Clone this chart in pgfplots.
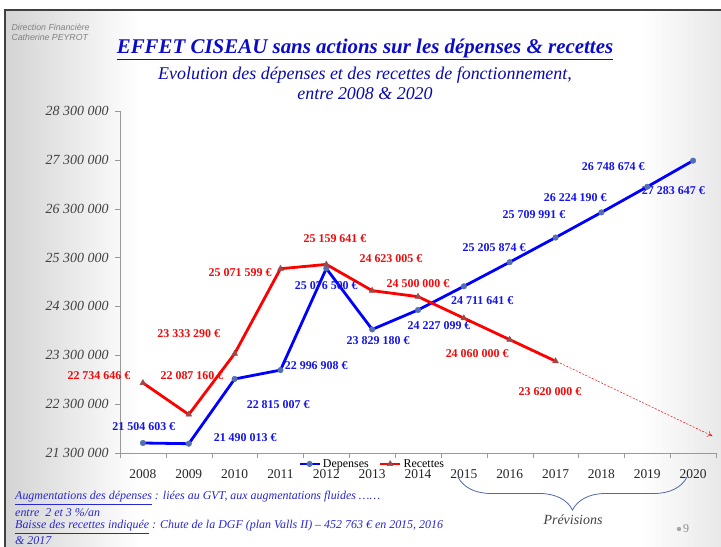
\documentclass[border=0pt]{standalone}
\usepackage{fontspec}
\setmainfont{Liberation Serif}
\newfontfamily\hdrfont{Liberation Sans}
\usepackage{pgfplots}
\pgfplotsset{compat=1.18}
\usetikzlibrary{decorations.pathreplacing,arrows.meta}

\definecolor{dep}{RGB}{0,0,255}
\definecolor{depmark}{RGB}{84,110,178}
\definecolor{rec}{RGB}{255,0,0}
\definecolor{recmark}{RGB}{160,72,72}
\definecolor{lblb}{RGB}{20,20,235}
\definecolor{lblr}{RGB}{240,10,10}
\definecolor{titlec}{RGB}{12,12,200}
\definecolor{notec}{RGB}{40,40,210}
\definecolor{bracec}{RGB}{80,105,170}
\definecolor{tickc}{RGB}{64,64,64}

\pgfplotstableread{
year value
2008 21504603
2009 21490013
2010 22815007
2011 22996908
2012 25076500
2013 23829180
2014 24227099
2015 24711641
2016 25205874
2017 25709991
2018 26224190
2019 26748674
2020 27283647
}\depenses

\pgfplotstableread{
year value
2008 22734646
2009 22087160
2010 23333290
2011 25071599
2012 25159641
2013 24623005
2014 24500000
2015 24060000
2016 23620000
2017 23180000
}\recettes

\begin{document}
\begin{tikzpicture}
\begin{scope}[x=1bp,y=1bp]
\path[use as bounding box] (0,0) rectangle (721,547);
% slide background
\fill[white] (0,0) rectangle (721,547);
\shade[left color=black!17, right color=white] (5,0) rectangle (140,537);
\shade[left color=white, right color=black!9] (640,0) rectangle (721,537);
\draw[line width=1.6bp, black!75] (5,-5) -- (5,537) -- (730,537);

% header
\node[anchor=west, font=\hdrfont\itshape\fontsize{8.8}{9.5}\selectfont, text=black!50, align=left] at (8,514.5) {Direction Financière\\Catherine PEYROT};

% titles
\node[font=\fontsize{21}{24}\selectfont\bfseries\itshape, text=titlec] at (365,498) {\underline{EFFET CISEAU sans actions sur les dépenses \& recettes}};
\node[font=\fontsize{18}{21}\selectfont\itshape, text=titlec!85!black, align=center] at (365,463.5) {Evolution des dépenses et des recettes de fonctionnement,\\[-1bp]entre 2008 \& 2020};
\end{scope}

\begin{axis}[
  scale only axis, width=596bp, height=342bp,
  at={(120bp,94bp)}, anchor=south west,
  xmin=2007.5, xmax=2020.5,
  ymin=21300000, ymax=28300000,
  axis x line*=bottom, axis y line*=left,
  axis line style={black!40, -},
  tick style={black!40},
  tick align=outside, major tick length=5bp,
  xtick={2007.5,2008.5,2009.5,2010.5,2011.5,2012.5,2013.5,2014.5,2015.5,2016.5,2017.5,2018.5,2019.5,2020.5},
  x tick label as interval,
  xticklabels={2008,2009,2010,2011,2012,2013,2014,2015,2016,2017,2018,2019,2020},
  xticklabel style={font=\fontsize{13.5}{15}\selectfont, text=black!85, yshift=-8bp},
  ytick={21300000,22300000,23300000,24300000,25300000,26300000,27300000,28300000},
  yticklabels={21 300 000,22 300 000,23 300 000,24 300 000,25 300 000,26 300 000,27 300 000,28 300 000},
  yticklabel style={font=\fontsize{14}{15}\selectfont\itshape, text=tickc, xshift=-3bp},
  scaled y ticks=false,
  clip=false,
  legend columns=2,
  legend style={at={(0.423,-0.032)}, anchor=center, draw=none, fill=none,
    font=\fontsize{12}{13}\selectfont, inner sep=0pt,
    /tikz/every even column/.append style={column sep=8bp}},
  legend image code/.code={\draw[#1] (0bp,0bp) -- (10bp,0bp) -- (20bp,0bp); \path[#1, only marks] plot coordinates {(10bp,0bp)};},
]
\addplot[dep, line width=2.8bp, mark=*, mark size=2.8bp, mark options={fill=depmark, draw=depmark, line width=0.4bp}] table[x=year, y=value] {\depenses};
\addlegendentry{Depenses}
\addplot[rec, line width=2.8bp, mark=triangle*, mark size=3.4bp, mark options={fill=recmark, draw=recmark, line width=0.4bp}] table[x=year, y=value] {\recettes};
\addlegendentry{Recettes}

\draw[rec, line width=0.5bp, dash pattern=on 2bp off 1.5bp, -{To[length=5bp,width=6bp]}] (axis cs:2017.1,23140000) -- (axis cs:2020.42,21648000);

% data labels (Depenses)
\begin{scope}[every node/.style={font=\fontsize{12}{13}\selectfont\bfseries, text=lblb, inner sep=0pt}]
\node at (axis cs:2008.02,21832000) {21 504 603 €};
\node at (axis cs:2010.23,21607000) {21 490 013 €};
\node at (axis cs:2010.95,22282000) {22 815 007 €};
\node at (axis cs:2011.78,23079000) {22 996 908 €};
\node at (axis cs:2012.00,24736000) {25 076 500 €};
\node at (axis cs:2013.13,23611000) {23 829 180 €};
\node at (axis cs:2014.46,23918000) {24 227 099 €};
\node at (axis cs:2015.40,24429000) {24 711 641 €};
\node at (axis cs:2015.66,25513000) {25 205 874 €};
\node at (axis cs:2016.53,26188000) {25 709 991 €};
\node at (axis cs:2017.43,26535000) {26 224 190 €};
\node at (axis cs:2018.26,27169000) {26 748 674 €};
\node at (axis cs:2019.57,26678000) {27 283 647 €};
\end{scope}
% data labels (Recettes)
\begin{scope}[every node/.style={font=\fontsize{12}{13}\selectfont\bfseries, text=lblr, inner sep=0pt}]
\node at (axis cs:2007.04,22875000) {22 734 646 €};
\node at (axis cs:2009.07,22875000) {22 087 160 €};
\node at (axis cs:2009.00,23734000) {23 333 290 €};
\node at (axis cs:2010.12,25001000) {25 071 599 €};
\node at (axis cs:2012.19,25697000) {25 159 641 €};
\node at (axis cs:2013.41,25288000) {24 623 005 €};
\node at (axis cs:2014.00,24777000) {24 500 000 €};
\node at (axis cs:2015.29,23325000) {24 060 000 €};
\node at (axis cs:2016.88,22547000) {23 620 000 €};
\end{scope}
\end{axis}

\begin{scope}[x=1bp,y=1bp]
% brace and forecast label
\draw[decorate, decoration={brace, mirror, amplitude=33bp}, bracec, line width=0.8bp] (458,70) -- (687,70);
\node[font=\fontsize{14}{16}\selectfont\itshape, text=black!75] at (573,27) {Prévisions};

% notes
\begin{scope}[every node/.style={anchor=west, font=\fontsize{12}{13}\selectfont\itshape, text=notec, inner sep=0pt}]
\node at (15,49) {\underline{Augmentations des dépenses} : liées au GVT, aux augmentations fluides ……};
\node at (15,34) {entre~ 2 et 3 \%/an};
\node at (15,20) {\underline{Baisse des recettes indiquée} : Chute de la DGF (plan Valls II) – 452 763 € en 2015, 2016};
\node at (15,6) {\& 2017};
\end{scope}

% page number
\fill[black!35] (679,18) circle (2.2bp);
\node[font=\fontsize{12}{13}\selectfont, text=black!45, anchor=west, inner sep=0pt] at (683,18) {9};
\end{scope}
\end{tikzpicture}
\end{document}
